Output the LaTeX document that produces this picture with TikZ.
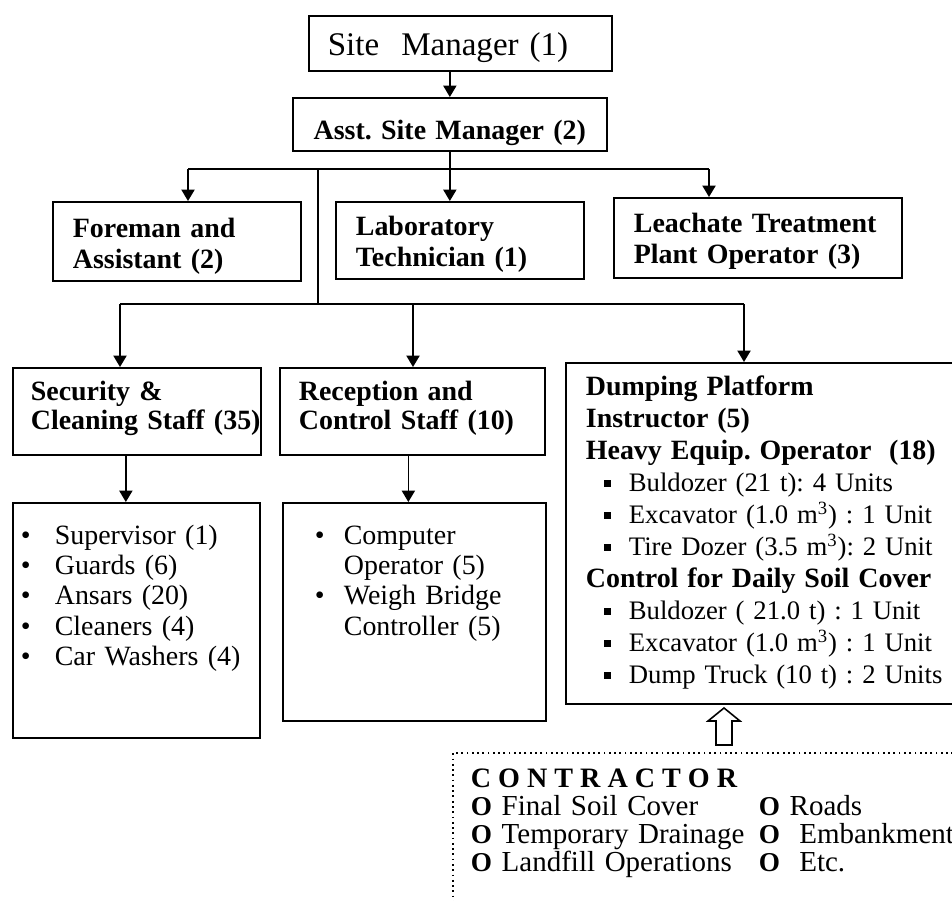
\documentclass[tikz,border=0pt]{standalone}
\usepackage{fontspec}
\setmainfont{Liberation Serif}
\usepackage{tikz}
\usetikzlibrary{arrows.meta,positioning,calc}
\frenchspacing
\newcommand{\topfont}{\fontsize{18.8pt}{20pt}\selectfont}
\newcommand{\headfont}{\fontsize{15.9pt}{17.6pt}\selectfont\bfseries}
\newcommand{\stafffont}{\fontsize{15.9pt}{16.5pt}\selectfont\bfseries}
\newcommand{\dumpfont}{\fontsize{15.2pt}{18.2pt}\selectfont}
\newcommand{\listfont}{\fontsize{15.9pt}{17.1pt}\selectfont}
\newcommand{\ctrfont}{\fontsize{16.5pt}{15.9pt}\selectfont}
\newcommand{\dumphead}[1]{\mbox{\fontsize{15.9pt}{18.2pt}\selectfont\bfseries #1}}
\newcommand{\dotitem}[1][0.68cm]{\makebox[#1][l]{\textbullet}}
\newcommand{\sqitem}{\hspace*{0.36cm}\makebox[0.5cm][l]{\rule[2.8pt]{4pt}{4pt}}}
\newcommand{\ctrmark}{{\fontsize{15.5pt}{15.5pt}\selectfont\bfseries O}}
\tikzstyle{orgbox}=[draw, line width=1pt, anchor=north west, align=left, inner xsep=0.4cm, inner ysep=0pt]
\tikzstyle{orgline}=[line width=0.9pt]
\tikzstyle{orgarrow}=[orgline, -{Triangle[length=6.5pt,width=7.5pt]}]
\tikzstyle{hollowarrow}=[line width=0.9pt, fill=white, line join=miter]
\begin{document}
\begin{tikzpicture}[x=0.02cm, y=-0.02cm]
    \useasboundingbox (0,0) rectangle (952,901);
    \clip (0,0) rectangle (952,901);

    % Level 0
    \node[orgbox, font=\topfont, inner xsep=0.38cm, text width=5.30cm,
          text height=0.80cm, text depth=0.30cm] (site) at (308,15) {Site\ \ Manager (1)};

    % Level 1
    \node[orgbox, font=\headfont, align=center, inner xsep=0.2cm, text width=5.88cm,
          text height=0.84cm, text depth=0.22cm] (asst) at (292,97) {Asst. Site Manager (2)};

    % Level 2
    \node[orgbox, font=\headfont, text width=4.16cm, text height=0.72cm, text depth=0.86cm]
          (fore) at (52,201) {Foreman and\\Assistant (2)};
    \node[orgbox, font=\headfont, text width=4.16cm, text height=0.68cm, text depth=0.86cm]
          (lab) at (335,201) {Laboratory\\Technician (1)};
    \node[orgbox, font=\headfont, text width=4.96cm, text height=0.70cm, text depth=0.90cm]
          (leach) at (613,197) {\mbox{Leachate Treatment}\\Plant Operator (3)};

    % Level 3
    \node[orgbox, font=\stafffont, inner xsep=0.36cm, text width=4.24cm, text height=0.66cm, text depth=1.08cm]
          (sec) at (12,367) {Security \&\\\mbox{Cleaning Staff (35)}};
    \node[orgbox, font=\stafffont, inner xsep=0.38cm, text width=4.54cm, text height=0.66cm, text depth=1.08cm]
          (recp) at (279,367) {Reception and\\Control Staff (10)};
    \node[orgbox, font=\dumpfont, text width=7.4cm, text height=0.66cm, text depth=6.16cm]
          (dump) at (565,362) {%
      \dumphead{Dumping Platform}\\
      \dumphead{Instructor (5)}\\
      \dumphead{Heavy Equip. Operator\ \ (18)}\\
      \sqitem Buldozer (21 t): 4 Units\\
      \sqitem \mbox{Excavator (1.0 m\textsuperscript{3}) : 1 Unit}\\
      \sqitem \mbox{Tire Dozer (3.5 m\textsuperscript{3}): 2 Unit}\\
      \dumphead{Control for Daily Soil Cover}\\
      \sqitem Buldozer ( 21.0 t) : 1 Unit\\
      \sqitem \mbox{Excavator (1.0 m\textsuperscript{3}) : 1 Unit}\\
      \sqitem \mbox{Dump Truck (10 t) : 2 Units}};

    % Level 4
    \node[orgbox, font=\listfont, inner xsep=0.16cm, text width=4.62cm, text height=0.84cm, text depth=3.86cm]
          (seclist) at (12,502) {%
      \dotitem Supervisor (1)\\
      \dotitem Guards (6)\\
      \dotitem Ansars (20)\\
      \dotitem Cleaners (4)\\
      \dotitem Car Washers (4)};
    \node[orgbox, font=\listfont, inner xsep=0.64cm, text width=3.98cm, text height=0.84cm, text depth=3.52cm]
          (recplist) at (282,502) {%
      \dotitem[0.58cm]Computer\\
      \hspace*{0.58cm}Operator (5)\\
      \dotitem[0.58cm]Weigh Bridge\\
      \hspace*{0.58cm}Controller (5)};

    % Contractor
    \node[orgbox, dotted, font=\ctrfont, inner xsep=0.36cm, text width=10cm, text height=0.70cm, text depth=4cm]
          (ctr) at (452,752) {%
      {\fontsize{16pt}{15.9pt}\selectfont\bfseries C\hspace{0.25em}O\hspace{0.25em}N\hspace{0.25em}T\hspace{0.25em}R\hspace{0.25em}A\hspace{0.25em}C\hspace{0.25em}T\hspace{0.25em}O\hspace{0.25em}R}\\
      \makebox[5.76cm][l]{\ctrmark\ Final Soil Cover}\ctrmark\ Roads\\
      \makebox[5.76cm][l]{\ctrmark\ Temporary Drainage}\ctrmark\ \ Embankment\\
      \makebox[5.76cm][l]{\ctrmark\ Landfill Operations}\ctrmark\ \ Etc.};

    % Bus points
    \coordinate (busL) at (188,169);
    \coordinate (busR) at (709,169);
    \coordinate (split) at (318,169);
    \coordinate (bus2L) at (120,304);
    \coordinate (bus2M) at (413,304);
    \coordinate (bus2R) at (744,304);
    \path (sec.south) ++(-11,0) coordinate (secdrop);
    \path (recp.south) ++(-4,0) coordinate (recpdrop);
    \coordinate (upfoot) at (724,745);

    % Connectors
    \draw[orgarrow] (asst.north |- site.south) -- (asst.north);
    \draw[orgline] (busL) -- (busR);
    \draw[orgarrow] (asst.south) -- (asst.south |- lab.north);
    \draw[orgarrow] (busL) -- (busL |- fore.north);
    \draw[orgarrow] (busR) -- (busR |- leach.north);
    \draw[orgline] (split) -- (split |- bus2L);
    \draw[orgline] (bus2L) -- (bus2R);
    \draw[orgarrow] (bus2L) -- (bus2L |- sec.north);
    \draw[orgarrow] (bus2M) -- (bus2M |- recp.north);
    \draw[orgarrow] (bus2R) -- (bus2R |- dump.north);
    \draw[orgarrow] (secdrop) -- (secdrop |- seclist.north);
    \draw[orgarrow] (recpdrop) -- (recpdrop |- recplist.north);

    % Contractor to dumping platform
    \draw[hollowarrow] (upfoot) ++(-8,0) -- ++(0,-24) -- ++(-8,0) -- ++(16,-13)
          -- ++(16,13) -- ++(-8,0) -- ++(0,24) -- cycle;
\end{tikzpicture}
\end{document}
